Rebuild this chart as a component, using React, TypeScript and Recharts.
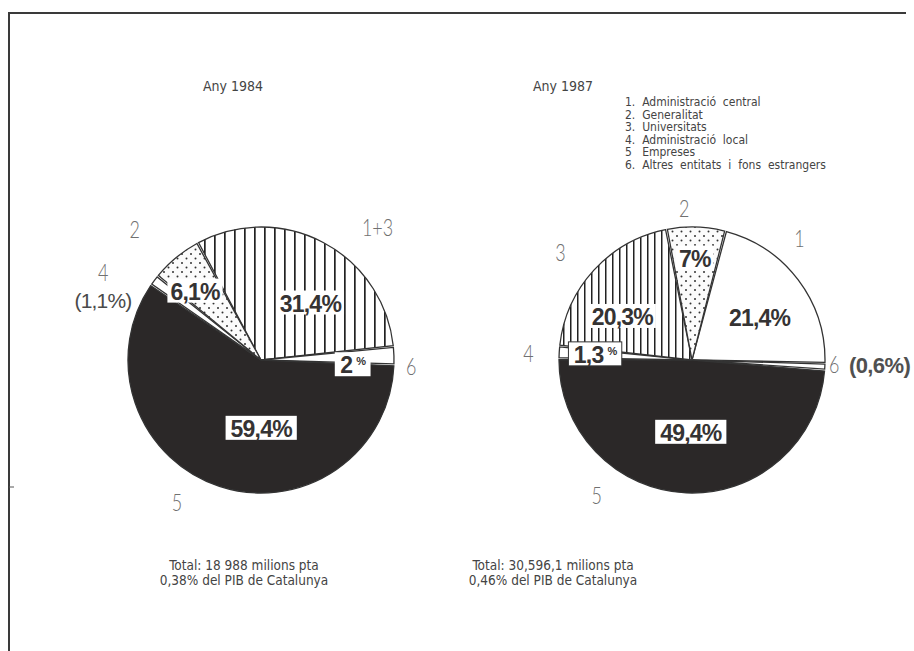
import React from 'react';
import { PieChart, Pie, Cell } from 'recharts';

// ---- data ----
const LEFT_CATEGORIES = ['1+3', '6', '5', '4', '2'];
const LEFT_VALUES = [31.4, 2, 59.4, 1.1, 6.1];
const LEFT_PCT_LABELS = ['31,4', '2', '59,4', '', '6,1'];

const RIGHT_CATEGORIES = ['1', '6', '5', '4', '3', '2'];
const RIGHT_VALUES = [21.4, 0.6, 49.4, 1.3, 20.3, 7];
const RIGHT_PCT_LABELS = ['21,4', '', '49,4', '1,3', '20,3', '7'];

const TITLES = ['Any 1984', 'Any 1987'];
const LEGEND = [
  '1.  Administració  central',
  '2.  Generalitat',
  '3.  Universitats',
  '4.  Administració  local',
  '5   Empreses',
  '6.  Altres  entitats  i  fons  estrangers',
];
const TOTALS_LEFT = ['Total: 18 988 milions pta', '0,38% del PIB de Catalunya'];
const TOTALS_RIGHT = ['Total: 30,596,1 milions pta', '0,46% del PIB de Catalunya'];

const leftData = LEFT_CATEGORIES.map((c, i) => ({ name: c, value: LEFT_VALUES[i], pct: LEFT_PCT_LABELS[i] }));
const rightData = RIGHT_CATEGORIES.map((c, i) => ({ name: c, value: RIGHT_VALUES[i], pct: RIGHT_PCT_LABELS[i] }));

// ---- styles ----
const LIGHT = "'DejaVu Sans Condensed', 'Liberation Sans Narrow', sans-serif";
const THIN = "Lato, 'Open Sans', sans-serif";
const BOLD = "'Liberation Sans', Arial, sans-serif";
const DARK = '#2b2828';

type SliceStyle = {
  fill: string;
  pOff?: number; pR?: number; box?: 'halo' | 'white' | 'border' | 'none'; smallPct?: boolean;
  cOff: number; cR: number; anchor?: 'middle' | 'start';
  sub?: string; subOff?: number; subR?: number; inlineSub?: string;
};

const LEFT_STYLE: SliceStyle[] = [
  { fill: 'url(#stripesL)', pOff: -12.8, pR: 0.57, box: 'halo', cOff: -13.3, cR: 1.33 },
  { fill: '#ffffff', pOff: -4.5, pR: 0.69, box: 'white', smallPct: true, cOff: -4, cR: 1.13 },
  { fill: DARK, pOff: 18.4, pR: 0.51, box: 'white', cOff: -12.4, cR: 1.24 },
  { fill: '#ffffff', cOff: 7.5, cR: 1.36, sub: '(1,1%)', subOff: 16, subR: 1.27 },
  { fill: 'url(#dots)', pOff: 3.9, pR: 0.72, box: 'halo', cOff: 4.2, cR: 1.37 },
];

const RIGHT_STYLE: SliceStyle[] = [
  { fill: '#ffffff', pOff: -4.8, pR: 0.6, box: 'none', cOff: 11.5, cR: 1.22 },
  { fill: '#ffffff', cOff: 1.1, cR: 1.03, anchor: 'start', inlineSub: '(0,6%)' },
  { fill: DARK, pOff: 1.5, pR: 0.54, box: 'white', cOff: -32.8, cR: 1.24 },
  { fill: '#ffffff', pOff: -0.3, pR: 0.73, box: 'border', smallPct: true, cOff: 0.9, cR: 1.23 },
  { fill: 'url(#stripesR)', pOff: 10.2, pR: 0.62, box: 'halo', cOff: 3.1, cR: 1.28 },
  { fill: 'url(#dots)', pOff: 0.2, pR: 0.77, box: 'halo', cOff: 4.7, cR: 1.14 },
];

const RAD = Math.PI / 180;
const polar = (cx: number, cy: number, r: number, a: number) => ({
  x: cx + r * Math.cos(-a * RAD),
  y: cy + r * Math.sin(-a * RAD),
});

const charW = (ch: string) => {
  if (ch === ',' || ch === ' ') return 0.278;
  if (ch === '%') return 0.889;
  return 0.556;
};

const PCT_FS = 23;
const CAT_FS = 23;
const SQUEEZE = 0.78;

const makeLabel = (styles: SliceStyle[]) => (props: any) => {
  const { cx, cy, midAngle, outerRadius, index, payload } = props;
  const st = styles[index];
  const pct: string = (payload && payload.pct) ?? props.pct ?? '';
  const name: string = (payload && payload.name) ?? props.name ?? '';
  const out: React.ReactNode[] = [];
  if (pct && st.pOff !== undefined && st.pR !== undefined) {
    const p = polar(cx, cy, outerRadius * st.pR, midAngle + st.pOff);
    const pctFs = st.smallPct ? 11 : PCT_FS;
    let w = 0;
    for (const ch of pct) w += charW(ch) * PCT_FS - 0.8;
    w += st.smallPct ? 0.889 * pctFs + 4 : 0.889 * PCT_FS - 0.8;
    const padX = st.box === 'halo' ? 3 : 5;
    if (st.box && st.box !== 'none') {
      out.push(
        <rect key="b" x={p.x - w / 2 - padX} y={p.y - 12} width={w + padX * 2} height={24}
          fill="#fff" stroke={st.box === 'border' ? '#333' : 'none'} strokeWidth={1} />
      );
    }
    out.push(
      <text key="p" x={p.x} y={p.y + 1} textAnchor="middle" dominantBaseline="central"
        fontFamily={BOLD} fontWeight={700} fontSize={PCT_FS} letterSpacing={-0.8} fill="#353333">
        {pct}
        {st.smallPct ? <tspan fontSize={pctFs} dx={4} dy={-4}>%</tspan> : '%'}
      </text>
    );
  }
  const c = polar(cx, cy, outerRadius * st.cR, midAngle + st.cOff);
  out.push(
    <text key="c" transform={`translate(${c.x},${c.y}) scale(${SQUEEZE},1)`} x={0} y={0}
      textAnchor={st.anchor ?? 'middle'} dominantBaseline="central"
      fontFamily={THIN} fontWeight={300} fontSize={CAT_FS} fill="#707070">
      {name}
    </text>
  );
  if (st.inlineSub) {
    out.push(
      <text key="i" x={c.x + 20} y={c.y + 1} textAnchor="start" dominantBaseline="central"
        fontFamily={BOLD} fontWeight={700} fontSize={22} letterSpacing={-0.6} fill="#505050">
        {st.inlineSub}
      </text>
    );
  }
  if (st.sub && st.subOff !== undefined && st.subR !== undefined) {
    const s = polar(cx, cy, outerRadius * st.subR, midAngle + st.subOff);
    out.push(
      <text key="s" x={s.x} y={s.y} textAnchor="middle" dominantBaseline="central"
        fontFamily={BOLD} fontSize={21} letterSpacing={-0.8} fill="#4a4a4a">{st.sub}</text>
    );
  }
  return <g>{out}</g>;
};

const W = 914;
const H = 651;

export default function App() {
  return (
    <div style={{ position: 'absolute', left: 0, top: 0, width: W, height: H, background: '#fff', overflow: 'hidden' }}>
      <svg width={0} height={0} style={{ position: 'absolute' }}>
        <defs>
          <pattern id="stripesL" patternUnits="userSpaceOnUse" width={10} height={10}>
            <rect width={10} height={10} fill="#fff" />
            <rect x={4} y={0} width={1.7} height={10} fill="#222" />
          </pattern>
          <pattern id="stripesR" patternUnits="userSpaceOnUse" width={7} height={10}>
            <rect width={7} height={10} fill="#fff" />
            <rect x={3} y={0} width={1.5} height={10} fill="#222" />
          </pattern>
          <pattern id="dots" patternUnits="userSpaceOnUse" width={9} height={9}>
            <rect width={9} height={9} fill="#fbfbfb" />
            <circle cx={2} cy={2} r={1} fill="#333" />
            <circle cx={6.5} cy={6.5} r={1} fill="#333" />
          </pattern>
        </defs>
      </svg>
      <PieChart width={W} height={H} style={{ position: 'absolute', left: 0, top: 0 }}>
        <Pie data={leftData} dataKey="value" nameKey="name" cx={256} cy={355} outerRadius={133}
          startAngle={118} endAngle={118 - 360} paddingAngle={0.8} stroke="#333" strokeWidth={1.3}
          isAnimationActive={false} labelLine={false} label={makeLabel(LEFT_STYLE)}>
          {leftData.map((d, i) => <Cell key={d.name} fill={LEFT_STYLE[i].fill} />)}
        </Pie>
        <Pie data={rightData} dataKey="value" nameKey="name" cx={687} cy={355} outerRadius={133}
          startAngle={75} endAngle={75 - 360} paddingAngle={0.8} stroke="#333" strokeWidth={1.3}
          isAnimationActive={false} labelLine={false} label={makeLabel(RIGHT_STYLE)}>
          {rightData.map((d, i) => <Cell key={d.name} fill={RIGHT_STYLE[i].fill} />)}
        </Pie>
      </PieChart>
      <svg width={W} height={H} style={{ position: 'absolute', left: 0, top: 0, pointerEvents: 'none' }}>
        <line x1={9} y1={13} x2={906} y2={13} stroke="#3a3a3a" strokeWidth={2} />
        <line x1={9} y1={12} x2={9} y2={H} stroke="#3a3a3a" strokeWidth={2} />
        <line x1={9} y1={487} x2={14} y2={487} stroke="#555" strokeWidth={1} />
        <text x={233} y={91} textAnchor="middle" fontFamily={LIGHT} fontSize={14} fill="#444">{TITLES[0]}</text>
        <text x={563} y={91} textAnchor="middle" fontFamily={LIGHT} fontSize={14} fill="#444">{TITLES[1]}</text>
        {LEGEND.map((l, i) => (
          <text key={l} x={625} y={106 + i * 12.6} fontFamily={LIGHT} fontSize={12} fill="#444"
            style={{ whiteSpace: 'pre' }}>{l}</text>
        ))}
        {TOTALS_LEFT.map((l, i) => (
          <text key={l} x={244} y={570 + i * 15} textAnchor="middle" fontFamily={LIGHT} fontSize={13.5} fill="#444">{l}</text>
        ))}
        {TOTALS_RIGHT.map((l, i) => (
          <text key={l} x={553} y={570 + i * 15} textAnchor="middle" fontFamily={LIGHT} fontSize={13.5} fill="#444">{l}</text>
        ))}
      </svg>
    </div>
  );
}
